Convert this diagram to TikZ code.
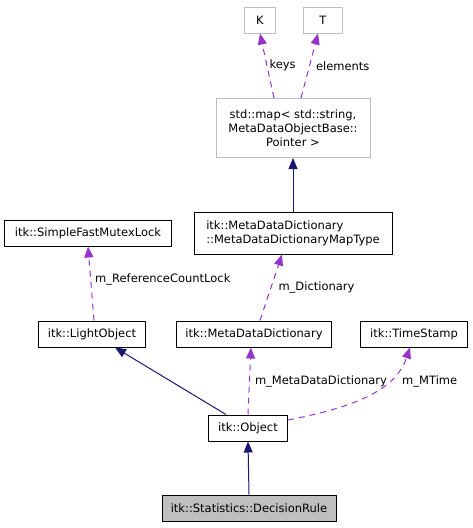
\documentclass[tikz,border=0pt]{standalone}
\usepackage{fontspec}
\setmainfont{DejaVu Sans}
\usetikzlibrary{arrows.meta,positioning}
\definecolor{edgenavy}{RGB}{25, 25, 112}
\definecolor{memberpurple}{RGB}{153, 50, 204}
\definecolor{boxgrey}{RGB}{191, 191, 191}

\begin{document}
\begin{tikzpicture}[
  x=1pt, y=-1pt,
  >={Triangle[length=11pt,width=9pt]},
  font=\fontsize{11.5}{14}\selectfont,
  cls/.style={
    draw=black,
    line width=1pt,
    fill=white,
    minimum height=26pt,
    inner xsep=6pt,
    inner ysep=2pt,
    align=center
  },
  ext/.style={
    cls,
    draw=boxgrey
  },
  inherit/.style={
    ->,
    draw=edgenavy,
    line width=1pt
  },
  member/.style={
    ->,
    draw=memberpurple,
    line width=1pt,
    dash pattern=on 6pt off 5pt
  },
  lbl/.style={
    anchor=west,
    inner sep=1pt,
    text=black
  }
]
  \useasboundingbox (0,0) rectangle (473,528);

  % template arguments and the map
  \node[ext, minimum width=31pt] (k) at (260,20) {K};
  \node[ext, minimum width=39pt] (t) at (323,20) {T};
  \node[ext, minimum width=154pt, minimum height=59pt] (map) at (293,128)
    {std::map< std::string,\\MetaDataObjectBase::\\Pointer >};

  % middle row
  \node[cls, minimum width=167pt] (lock) at (88,233) {itk::SimpleFastMutexLock};
  \node[cls, minimum width=198pt, minimum height=42pt, align=left] (maptype) at (293,233)
    {itk::MetaDataDictionary\\::MetaDataDictionaryMapType};

  % members of Object
  \node[cls, minimum width=107pt] (light) at (92,334) {itk::LightObject};
  \node[cls, minimum width=155pt] (dict) at (254,334) {itk::MetaDataDictionary};
  \node[cls, minimum width=107pt] (stamp) at (414,334) {itk::TimeStamp};
  \node[cls, minimum width=79pt] (object) at (248,428) {itk::Object};
  \node[cls, fill=boxgrey, minimum width=174pt] (rule) at (249,508) {itk::Statistics::DecisionRule};

  % connectors
  \draw[member] ([xshift=-19pt]map.north) -- (k.south)
    node[lbl, pos=0.5, xshift=1pt] {keys};
  \draw[member] ([xshift=8pt]map.north) -- ([xshift=-5pt]t.south)
    node[lbl, pos=0.5, xshift=5pt] {elements};
  \draw[inherit] (maptype.north) -- (map.south);
  \draw[member] ([xshift=2pt]light.north) -- (lock.south)
    node[lbl, pos=0.55, xshift=3pt] {m\_ReferenceCountLock};
  \draw[member] ([xshift=6pt]dict.north) -- ([xshift=-11pt]maptype.south)
    node[lbl, pos=0.5, xshift=6pt] {m\_Dictionary};
  \draw[inherit] ([xshift=-22pt]object.north) -- ([xshift=23pt]light.south);
  \draw[member] (object.north) -- ([xshift=-3pt]dict.south)
    node[lbl, pos=0.5, xshift=4pt] {m\_MetaDataDictionary};
  \draw[member] ([yshift=8pt]object.east) .. controls (350,408) and (395,392) .. ([xshift=-4pt]stamp.south);
  \node[lbl] (mtime) at (401,381) {m\_MTime};
  \draw[inherit] (rule.north) -- (object.south);
\end{tikzpicture}
\end{document}
